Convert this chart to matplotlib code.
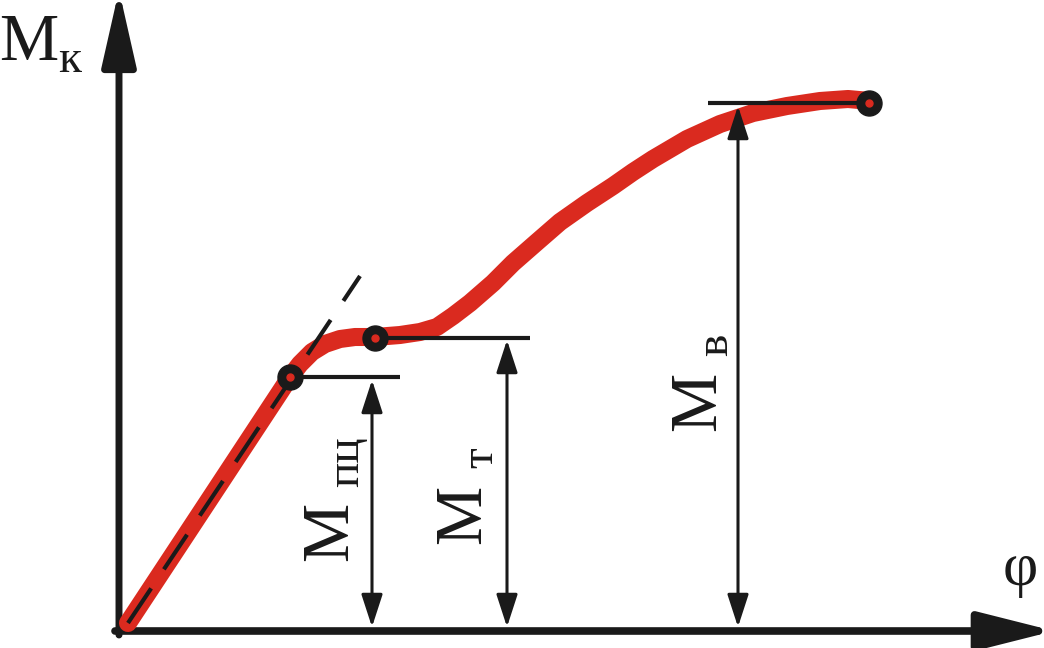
import matplotlib
matplotlib.use("Agg")
import matplotlib.pyplot as plt

# ---- data (phi = twist angle, M = torque, arbitrary units) ----
curve_phi = [9, 171, 181, 193, 206, 221, 236, 256, 281, 301, 318, 334, 351, 374, 394,
             418, 441, 468, 494, 514, 534, 568, 601, 634, 668, 701, 729, 751]
curve_M = [8, 254, 267, 279, 287, 292, 294, 294, 296, 299, 304, 315, 328, 348, 368,
           389, 409, 428, 445, 459, 472, 492, 507, 518, 525, 530, 532, 530]

tangent_phi = [9, 241]
tangent_M = [8, 355]

# characteristic points: proportional limit, yield, ultimate
key_phi = [171, 256, 750]
key_M = [254, 293, 528]

# horizontal reference levels (start, end of each line)
level_M = [254, 293, 528]
level_phi_start = [171, 256, 589]
level_phi_end = [281, 411, 750]

# dimension arrows
dim_phi = [253, 388, 619]
dim_top = [251, 291, 525]
dim_subs = ["пц", "т", "в"]

RED = "#da2a1f"
BLACK = "#1a1a1a"
SERIF = ["Liberation Serif", "DejaVu Serif"]

fig = plt.figure(figsize=(10.44, 6.48), dpi=100)
ax = fig.add_axes([0, 0, 1, 1])
ax.set_xlim(-119, 925)
ax.set_ylim(-17, 631)
ax.axis("off")

# axes with arrows
ax.annotate("", xy=(0, 641), xytext=(0, -4), annotation_clip=False,
            arrowprops=dict(arrowstyle="-|>,head_length=2.3,head_width=0.52",
                            mutation_scale=20, lw=5, color=BLACK,
                            shrinkA=0, shrinkB=0, clip_on=False))
ax.annotate("", xy=(935, 0), xytext=(-4, 0), annotation_clip=False,
            arrowprops=dict(arrowstyle="-|>,head_length=2.3,head_width=0.58",
                            mutation_scale=20, lw=5.5, color=BLACK,
                            shrinkA=0, shrinkB=0, clip_on=False))

# red curve
ax.plot(curve_phi, curve_M, color=RED, lw=13, solid_capstyle="round",
        solid_joinstyle="round", zorder=3)

# dashed tangent
ax.plot(tangent_phi, tangent_M, color=BLACK, lw=3, dashes=(10, 5.5), zorder=4)

# horizontal levels
for m, a, b in zip(level_M, level_phi_start, level_phi_end):
    ax.plot([a, b], [m, m], color=BLACK, lw=3, solid_capstyle="butt", zorder=4)

# dimension arrows
for x, top in zip(dim_phi, dim_top):
    ax.annotate("", xy=(x, top), xytext=(x, 4),
                arrowprops=dict(arrowstyle="<|-|>,head_length=2.0,head_width=0.65",
                                mutation_scale=10, lw=2.2, color=BLACK,
                                shrinkA=0, shrinkB=0), zorder=4)

# markers
ax.plot(key_phi, key_M, "o", ms=18, mfc=BLACK, mec=BLACK, zorder=5)
ax.plot(key_phi, key_M, "o", ms=5, mfc=RED, mec=RED, zorder=6)

# labels
label_pos = [(228, 100, 239, 169), (361, 117, 373, 173), (596, 230, 608, 286)]
for (mx, my, sx, sy), sub in zip(label_pos, dim_subs):
    ax.text(mx, my, "М", rotation=90, rotation_mode="anchor", ha="center",
            va="baseline", fontsize=48, family=SERIF, color=BLACK)
    ax.text(sx, sy, sub, rotation=90, rotation_mode="anchor", ha="center",
            va="baseline", fontsize=34, family=SERIF, color=BLACK)

ax.text(-90, 571, "М", ha="center", va="baseline", fontsize=48, family=SERIF, color=BLACK)
ax.text(-49, 559, "к", ha="center", va="baseline", fontsize=34, family=SERIF, color=BLACK)
ax.text(901, 61, "φ", ha="center", va="center", fontsize=44, family=SERIF, color=BLACK)

fig.savefig("out.png", dpi=100)
